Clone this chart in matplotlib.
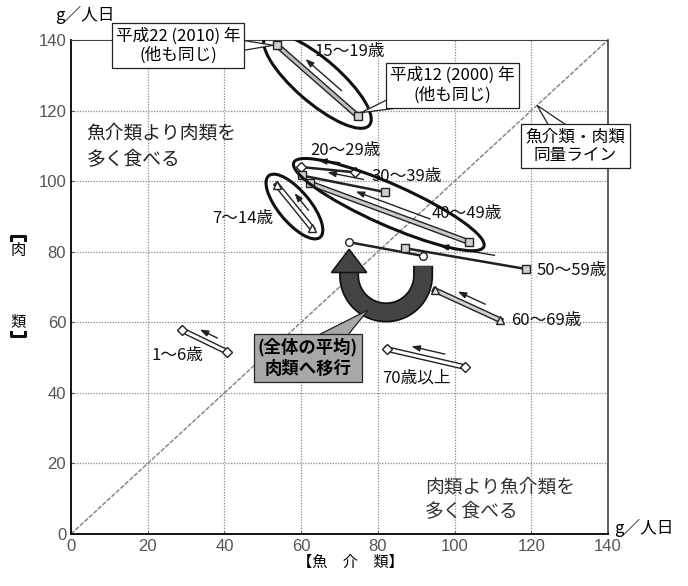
import numpy as np
import matplotlib
matplotlib.use("Agg")
import matplotlib.pyplot as plt
from matplotlib.patches import Ellipse, Polygon
from matplotlib.lines import Line2D
import matplotlib.patheffects as pe

plt.rcParams['font.family'] = ['Noto Sans CJK JP', 'DejaVu Sans']

# 年齢階級ごとの 1人1日あたり摂取量 (g)
grupos = ["1～6歳", "7～14歳", "15～19歳", "20～29歳", "30～39歳",
          "40～49歳", "50～59歳", "60～69歳", "70歳以上", "全体の平均"]
pescado_2000 = [40.7, 62.8, 74.8, 74.1, 81.9, 103.8, 118.6, 111.9, 102.7, 91.8]
carne_2000 = [51.6, 86.7, 118.4, 102.5, 96.9, 82.7, 75.1, 60.6, 47.3, 78.8]
pescado_2010 = [28.9, 53.7, 53.7, 59.9, 60.2, 62.3, 87.1, 94.9, 82.4, 72.5]
carne_2010 = [57.8, 98.9, 138.5, 104.0, 101.6, 99.4, 81.0, 69.1, 52.4, 82.7]

ticks = [0, 20, 40, 60, 80, 100, 120, 140]

# estilos (no son datos)
marcadores = ['D', '^', 's', 'D', 's', 's', 's', '^', 'D', 'o']
interior = ['white', 'white', '#bdbdbd', None, None, '#c8c8c8', None, '#cfcfcf', 'white', None]
cara = ['white', 'white', '#d0d0d0', 'white', '#d0d0d0', '#d0d0d0', '#d0d0d0', '#e0e0e0', 'white', 'white']

fig = plt.figure(figsize=(6.88, 5.86), dpi=100)
ax = fig.add_axes([71/688, 52/586, 537/688, 494/586])
ax.set_xlim(0, 140)
ax.set_ylim(0, 140)
ax.set_xticks(ticks)
ax.set_yticks(ticks)
ax.tick_params(labelsize=12, colors='#555', length=2, direction='in')
for t in ax.get_xticklabels() + ax.get_yticklabels():
    t.set_family(['Liberation Sans', 'DejaVu Sans'])

for v in ticks[1:-1]:
    ax.axvline(v, color='#8a8a8a', lw=0.9, ls=(0, (1, 1.2)), zorder=0)
    ax.axhline(v, color='#8a8a8a', lw=0.9, ls=(0, (1, 1.2)), zorder=0)

ax.spines['left'].set_linewidth(1.3)
ax.spines['bottom'].set_linewidth(1.3)
ax.spines['right'].set_linewidth(1.1)
ax.spines['right'].set_color('#333')
ax.spines['top'].set_linestyle((0, (1, 1)))
ax.spines['top'].set_color('#444')

# linea de igual cantidad
ax.plot([0, 140], [0, 140], color='#888', lw=1.1, ls=(0, (3, 1)), zorder=1)

for i in range(len(grupos)):
    xs = [pescado_2000[i], pescado_2010[i]]
    ys = [carne_2000[i], carne_2010[i]]
    if interior[i] is None:
        ax.plot(xs, ys, color='#222', lw=1.8, zorder=3)
    else:
        ax.plot(xs, ys, color='#222', lw=4.2, zorder=3)
        ax.plot(xs, ys, color=interior[i], lw=2.2, zorder=3)
    ax.plot(xs, ys, ls='none', marker=marcadores[i], ms=5.5, mfc=cara[i],
            mec='#222', mew=1.0, zorder=4)
    # flecha 2000 -> 2010
    if i < 9:
        d = np.array([xs[1] - xs[0], ys[1] - ys[0]])
        n = np.array([-d[1], d[0]]) / np.hypot(*d)
        if n[1] < 0:
            n = -n
        a = np.array([xs[0], ys[0]]) + 0.25 * d + 2.3 * n
        b = np.array([xs[0], ys[0]]) + 0.75 * d + 2.3 * n
        ax.annotate('', xy=b, xytext=a,
                    arrowprops=dict(arrowstyle='-|>,head_length=0.5,head_width=0.18',
                                    color='#222', lw=1.0), zorder=5)

# elipses
def elipse(idx, ancho, alto, extra=0.0):
    px = [pescado_2000[k] for k in idx] + [pescado_2010[k] for k in idx]
    py = [carne_2000[k] for k in idx] + [carne_2010[k] for k in idx]
    cx = (min(px) + max(px)) / 2 + extra
    cy = (min(py) + max(py)) / 2
    i0 = int(np.argmin(px)); i1 = int(np.argmax(px))
    ang = np.degrees(np.arctan2(py[i1] - py[i0], px[i1] - px[i0]))
    ax.add_patch(Ellipse((cx, cy), ancho, alto, angle=ang, fill=False,
                         ec='#111', lw=2.2, zorder=6))

elipse([2], 37, 12)
elipse([1], 22, 8.5)
elipse([3, 4, 5], 55, 11.5, extra=1.0)

# flecha en U del promedio (2000 -> 2010)
xr, xl = pescado_2000[9], pescado_2010[9]
cx, cy = (xr + xl) / 2, carne_2000[9] - 5.5
rx, ry = (xr - xl) / 2, 10.5
th = np.linspace(0, -np.pi, 60)
ux = np.concatenate([[xr], cx + rx * np.cos(th), [xl]])
uy = np.concatenate([[carne_2000[9] - 2.8], cy + ry * np.sin(th), [cy + 1.0]])
ax.plot(ux, uy, color='#444', lw=12, solid_capstyle='butt', zorder=7,
        path_effects=[pe.Stroke(linewidth=14.5, foreground='#111'), pe.Normal()])
tip = carne_2010[9] - 2.0
ax.add_patch(Polygon([(xl - 4.6, cy + 0.8), (xl + 4.6, cy + 0.8), (xl, tip)], closed=True,
                     fc='#444', ec='#111', lw=1.1, zorder=7.2))


# globos con cola
def globo(texto, punto, pos, base, fc='white', **kw):
    d = np.array(punto) - np.array(pos)
    n = np.array([-d[1], d[0]]) / np.hypot(*d)
    p0 = np.array(pos)
    ax.add_patch(Polygon([p0 + n * base / 2, p0 - n * base / 2, punto], closed=True,
                         fc=fc, ec='#222', lw=0.9, zorder=7.5, clip_on=False))
    ax.text(pos[0], pos[1], texto, ha='center', va='center', zorder=8, clip_on=False,
            bbox=dict(boxstyle='square,pad=0.25', fc=fc, ec='#222', lw=0.9), **kw)


globo("平成22 (2010) 年\n(他も同じ)", (pescado_2010[2] - 1.0, carne_2010[2]),
      (27.9, 138.4), 9, fontsize=12, linespacing=1.15)
globo("平成12 (2000) 年\n(他も同じ)", (pescado_2000[2] + 0.8, carne_2000[2] + 1.0),
      (99.5, 127.2), 9, fontsize=12, linespacing=1.15)
globo("魚介類・肉類\n同量ライン", (121.5, 121.5),
      (131.5, 109.9), 7, fontsize=12, linespacing=1.15)
globo("(全体の平均)\n肉類へ移行", (77.5, 63.5), (61.8, 49.9), 9, fc='#a8a8a8',
      fontsize=12.5, fontweight='bold', linespacing=1.2)

# etiquetas de grupos
etiquetas = [(21.0, 50.7), (36.7, 89.4), (63.6, 136.6), (62.3, 108.8), (78.4, 101.2),
             (94.0, 90.9), (121.4, 74.6), (114.7, 60.4), (81.0, 44.1)]
for g, (tx, ty) in zip(grupos[:9], etiquetas):
    ax.text(tx, ty, g, fontsize=12, ha='left', va='center', color='#111', zorder=9,
            clip_on=False)

ax.text(4.1, 110.0, "魚介類より肉類を\n多く食べる", fontsize=13.5, ha='left', va='center',
        linespacing=1.35, color='#222')
ax.text(92.3, 9.9, "肉類より魚介類を\n多く食べる", fontsize=13.5, ha='left', va='center',
        linespacing=1.25, color='#333')

# unidades y titulos de ejes
ax.text(141.5, 1.8, "g／人日", fontsize=12, ha='left', va='center', clip_on=False)
fig.text(85/688, 1 - 15/586, "g／人日", fontsize=12, ha='center', va='center')
fig.text(350/688, 1 - 562/586, "【魚　介　類】", fontsize=11, ha='center', va='center')
fig.text(18/688, 1 - 250/586, "肉", fontsize=11, ha='center', va='center')
fig.text(18/688, 1 - 322/586, "類", fontsize=11, ha='center', va='center')
# corchetes verticales
for y0, s in [(236, 1), (336, -1)]:
    yy = 1 - y0 / 586
    h = 4 / 586 * s
    fig.add_artist(Line2D([11/688, 11/688, 25/688, 25/688], [yy - h, yy, yy, yy - h],
                          color='#111', lw=2.2))

fig.savefig("out.png", dpi=100)
